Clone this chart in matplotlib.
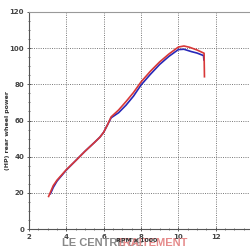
import matplotlib
matplotlib.use("Agg")
import matplotlib.pyplot as plt
from matplotlib.ticker import MultipleLocator

# dyno run, rpm x 1000 vs rear wheel HP
rpm_red = [3.05, 3.3, 3.5, 4.0, 4.5, 5.0, 5.5, 5.8, 6.0, 6.2, 6.4, 6.8, 7.2, 7.6,
           8.0, 8.5, 9.0, 9.5, 10.0, 10.3, 10.6, 11.0, 11.38, 11.4]
hp_red = [18, 24, 27, 32.8, 37.8, 43, 47.8, 50.8, 53.5, 57.5, 62, 65.8, 70.5, 75.5,
          81.3, 87.2, 92.4, 96.8, 100.6, 101.2, 100.5, 99, 97.2, 84.2]

rpm_blue = [3.15, 3.3, 3.5, 4.0, 4.5, 5.0, 5.5, 5.8, 6.0, 6.2, 6.4, 6.8, 7.2, 7.6,
            8.0, 8.5, 9.0, 9.5, 10.0, 10.3, 10.7, 11.0, 11.35, 11.37]
hp_blue = [19.5, 23, 26.5, 32.6, 37.8, 43, 47.8, 50.8, 53.5, 57.5, 61.5, 64.3, 68.5, 73.5,
           79.6, 85.5, 91, 95.5, 99.2, 99.4, 98.1, 97.3, 95.9, 93.5]

fig = plt.figure(figsize=(2.5, 2.5), dpi=100)
ax = fig.add_axes([0.116, 0.084, 0.884, 0.868])

ax.plot(rpm_blue, hp_blue, color='#2828b8', linewidth=1.2)
ax.plot(rpm_red, hp_red, color='#d83838', linewidth=1.2)

ax.set_xlim(2, 13.84)
ax.set_ylim(0, 120)
ax.xaxis.set_major_locator(MultipleLocator(2))
ax.xaxis.set_minor_locator(MultipleLocator(0.5))
ax.yaxis.set_major_locator(MultipleLocator(20))
ax.yaxis.set_minor_locator(MultipleLocator(5))
ax.grid(True, which='major', color='#666666', linestyle=(0, (1.2, 1.5)), linewidth=0.6)

ax.tick_params(which='both', direction='inout', colors='#444444', labelsize=5, pad=2)
ax.tick_params(which='major', length=3, width=0.6)
ax.tick_params(which='minor', length=2, width=0.5)
for lab in ax.get_xticklabels() + ax.get_yticklabels():
    lab.set_fontweight('bold')

for s in ['left', 'bottom']:
    ax.spines[s].set_color('#555555')
    ax.spines[s].set_linewidth(0.8)
ax.spines['top'].set_color('#999999')
ax.spines['right'].set_visible(False)

# watermark under the axis
fig.text(0.248, 0.028, 'LE CENTRE DE ', color='#888888', fontsize=8,
         family='Liberation Sans', fontweight='bold', ha='left', va='center')
fig.text(0.468, 0.028, 'TRAITEMENT', color='#e58a8a', fontsize=8,
         family='Liberation Sans', fontweight='bold', ha='left', va='center')
fig.text(0.548, 0.036, 'RPM x 1000', color='#333333', fontsize=4.5,
         fontweight='bold', ha='center', va='center')

fig.text(0.032, 0.48, '(HP) rear wheel power', color='#333333', fontsize=4.5,
         fontweight='bold', rotation=90, ha='center', va='center')

fig.savefig('out.png', dpi=100)
